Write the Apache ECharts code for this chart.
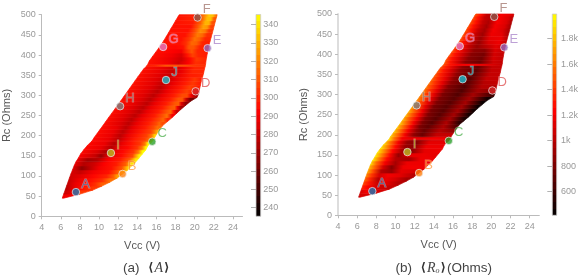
<!DOCTYPE html>
<html><head><meta charset="utf-8">
<style>html,body{margin:0;padding:0;background:#fff}#c{width:581px;height:280px}</style>
<script src="https://cdn.jsdelivr.net/npm/echarts@6/dist/echarts.min.js"></script>
</head><body><div id="c"></div>
<script>
const rcRows=[45,55,65,75,85,95,105,115,125,135,145,155,165,175,185,188,195,205,215,225,235,245,255,265,275,285,295,305,315,325,335,345,355,365,372,377,385,395,405,415,425,435,445,455,465,475,485,495,500];
// each row: Vcc, value, Vcc, value ... from the left edge of the region to its right edge
const ampRows=[
[6.15,285,6.3,290],
[6.3,280,7,285,7.6,296,8,304],
[6.45,275,7.2,285,8.2,296,9.35,304],
[6.6,278,7.5,288,8.8,296,9.6,302,10.3,312],
[6.75,280,7.8,288,9.2,296,10.3,302,11.15,316],
[6.9,282,8,286,9.5,294,10.8,300,11.5,312,11.9,326],
[7.05,284,8,280,9.4,290,11,296,11.9,310,12.45,332],
[7.22,286,8.2,268,9.2,280,10,290,11.3,296,12.4,310,13,336],
[7.38,288,8.4,276,9.5,282,10.5,292,11.8,298,12.8,312,13.4,340],
[7.58,290,8.8,272,9.8,276,11,292,12.2,298,13.2,312,13.85,342],
[7.85,292,9.6,280,10.2,270,10.9,285,12.3,294,13.5,308,14.2,344],
[8.08,294,9.8,284,10.9,272,11.6,288,12.5,294,13.6,304,14.1,318,14.55,345],
[8.4,294,10.2,288,11.3,276,12,288,13,294,14,304,14.5,318,14.9,345],
[8.75,294,10.6,288,11.6,276,12.4,288,13.3,296,14.3,304,14.8,318,15.1,344],
[9.17,294,10.9,288,11.9,278,12.7,288,13.6,298,14.6,306,15.2,318,15.55,340],
[9.3,294,11,288,12,278,12.8,288,13.7,298,14.8,306,15.3,318,15.65,340],
[9.47,295,11.2,288,12.2,278,13,288,14,298,15,306,15.5,318,15.8,336],
[9.78,295,11.5,288,12.5,278,13.3,288,14.4,298,15.4,306,15.8,318,16.05,328],
[10.09,295,11.8,288,12.8,278,13.6,288,14.8,298,15.7,308,16.1,316,16.35,314],
[10.4,295,12.1,286,13.1,278,13.9,288,15.1,298,16,308,16.3,314,16.65,308],
[10.7,295,12.4,286,13.4,278,14.2,288,15.4,298,16.3,308,16.7,314,17.15,300],
[11,295,12.7,286,13.75,278,14.6,288,15.8,298,16.7,310,17.1,316,17.65,290],
[11.31,295,13.1,286,14.2,278,15,288,16.2,298,17.1,310,17.5,314,17.8,296,18.1,280],
[11.62,295,13.5,286,14.6,278,15.4,288,16.6,298,17.5,310,17.9,312,18.2,290,18.55,272],
[11.93,296,13.9,286,15,278,15.8,288,17,298,17.9,310,18.3,312,18.6,286,19.05,268],
[12.23,296,14.3,286,15.35,278,16.2,288,17.4,298,18.3,310,18.7,310,19.1,282,19.55,262],
[12.53,296,14.6,286,15.7,278,16.6,288,17.8,298,18.7,308,19.2,308,19.6,290,20.25,270],
[12.83,296,15,286,16.1,278,17,288,18.2,298,19.2,306,19.9,298,20.42,288],
[13.13,296,15.4,286,16.45,278,17.3,288,18.6,298,19.5,306,20.5,298],
[13.43,296,15.7,286,16.8,278,17.7,288,19,298,19.8,304,20.6,298],
[13.73,296,16,286,17.1,279,18,288,19.3,298,20,304,20.7,298],
[14.03,296,16.3,286,17.4,280,18.3,288,19.5,298,20.82,300],
[14.34,296,16.6,287,17.7,280,18.6,288,19.8,300,20.93,300],
[14.64,296,16.9,287,18,281,18.9,290,20,300,21.02,300],
[14.95,298,15.8,300,17,310,19,308,20,304,21.1,302],
[15.1,296,17.2,290,18.3,282,19.3,292,20.1,302,21.14,300],
[15.25,296,17.5,288,18.6,282,19.5,294,20.2,304,21.18,300],
[15.55,296,17.6,290,18.6,284,19.2,296,19.8,306,20.4,300,21.25,298],
[15.86,296,17.8,292,18.6,290,19.2,302,19.7,310,20.3,300,21.33,298],
[16.17,296,18,294,18.8,296,19.4,310,19.9,310,20.5,300,21.42,298],
[16.47,296,18.4,296,19.1,302,19.7,314,20.2,312,20.8,300,21.5,298],
[16.75,296,18.6,296,19.4,304,20,316,20.5,312,21.1,300,21.62,300],
[17,296,19,296,19.7,306,20.3,318,20.8,314,21.3,302,21.73,302],
[17.26,296,19.3,296,20,308,20.6,322,21.1,318,21.5,304,21.85,304],
[17.5,296,19.6,296,20.3,310,20.9,326,21.3,324,21.7,306,21.96,306],
[17.76,296,19.8,298,20.6,312,21.1,330,21.5,330,21.8,310,22.07,308],
[18,296,20,300,20.8,314,21.3,332,21.7,332,22,312,22.18,310],
[18.25,296,20.2,300,20.9,316,21.5,334,21.9,332,22.3,312],
[18.38,298,20.3,300,21,318,21.6,334,22,332,22.35,312]
];
const roRows=[
[6.15,1000,6.3,1100],
[6.3,1100,7,1200,7.6,1150,8,1100],
[6.45,1350,7,1250,8,1100,9.35,1050],
[6.6,1450,7.2,1300,8.2,1050,9,1150,10.3,1000],
[6.75,1550,7.3,1350,8.2,1000,9,1180,10,1100,11.15,950],
[6.9,1650,7.5,1400,8.3,1100,9.2,1200,10.4,1150,11.9,1000],
[7.05,1750,7.7,1450,8.5,1000,9.6,900,10.6,1150,12.45,1100],
[7.22,1800,7.9,1500,8.7,1100,9.6,850,10.8,1180,11.8,1200,13,1180],
[7.38,1900,8,1550,8.9,1200,10,950,11.2,1180,12.2,1180,13.4,1180],
[7.58,1950,8.3,1600,9.1,1250,10,1000,11.4,950,12.6,1180,13.85,1180],
[7.85,1950,8.6,1600,9.4,1250,10.3,900,11.5,1150,13,1180,14.2,1150],
[8.08,1950,8.9,1600,9.7,1250,10.7,950,11.6,850,13,1150,14.55,1180],
[8.4,1950,9.2,1600,10,1250,11,900,11.9,880,13.2,1180,14.9,1180],
[8.75,1900,9.5,1550,10.3,1200,11.2,900,12.2,850,13.5,1150,15.1,1150],
[9.17,1900,9.8,1550,10.6,1200,11.5,900,12.5,860,13.8,1100,15.55,1100],
[9.3,1900,9.9,1550,10.7,1200,11.6,1150,13,1180,14,1200,15.65,1180],
[9.47,1850,10.2,1550,11,1200,11.9,880,12.8,760,14.3,1050,15.8,1050],
[9.78,1850,10.5,1550,11.3,1200,12.2,880,13,750,14.6,1000,16.05,880],
[10.09,1850,10.8,1550,11.6,1200,12.5,820,13.4,730,15,980,16.35,680],
[10.4,1850,11.1,1550,11.9,1200,12.8,820,13.8,700,15.3,980,16.65,560],
[10.7,1800,11.4,1500,12.2,1200,13.1,820,14.2,700,15.7,950,17.15,500],
[11,1800,11.7,1500,12.5,1200,13.4,820,14.6,700,16.1,950,17.65,480],
[11.31,1780,12,1500,12.8,1180,13.7,800,15,700,16.5,950,18.1,470],
[11.62,1750,12.3,1480,13.1,1150,14,800,15.3,700,16.9,950,18.55,460],
[11.93,1700,12.6,1450,13.4,1150,14.3,820,15.7,700,17.3,950,19.05,450],
[12.23,1680,12.9,1450,13.7,1150,14.6,820,16.1,700,17.7,950,19.55,470],
[12.53,1650,13.2,1420,14,1150,14.9,820,16.5,680,18.1,950,20.25,600],
[12.83,1620,13.5,1400,14.3,1150,15.2,840,16.9,680,18.6,950,20.42,850],
[13.13,1600,13.8,1400,14.6,1150,15.5,840,17.2,680,19,1000,20.5,1000],
[13.43,1580,14.1,1380,14.9,1150,15.8,870,17.5,700,19.2,1000,20.6,1050],
[13.73,1550,14.4,1350,15.2,1150,16.1,870,17.8,700,19.5,1050,20.7,1050],
[14.03,1520,14.7,1320,15.5,1120,16.4,870,18.1,720,19.8,1050,20.82,1050],
[14.34,1500,15,1300,15.8,1100,16.7,870,18.4,720,20,1050,20.93,1050],
[14.64,1480,15.3,1300,16.1,1100,17,870,18.6,740,20.1,1050,21.02,1050],
[14.95,1480,15.6,1300,16.5,1200,18,1220,20,1120,21.1,1050],
[15.1,1480,15.7,1290,16.5,1080,17.3,860,18.8,760,20.2,1080,21.14,1050],
[15.25,1480,15.9,1280,16.7,1080,17.6,860,19,780,20.2,1100,21.18,1050],
[15.55,1480,16.2,1280,17,1080,17.9,860,19.2,800,20.3,1100,21.25,1050],
[15.86,1480,16.5,1280,17.3,1080,18.2,880,19.3,860,20.4,1120,21.33,1050],
[16.17,1480,16.8,1280,17.6,1060,18.5,900,19.5,1020,20.5,1150,21.42,1050],
[16.47,1480,17.1,1280,17.9,1050,18.7,900,19.7,1120,20.8,1180,21.5,1050],
[16.75,1480,17.4,1280,18.2,1050,18.9,920,19.8,1150,21,1180,21.62,1020],
[17,1480,17.6,1280,18.4,1050,19.1,930,20,1180,21.1,1150,21.73,980],
[17.26,1480,17.9,1280,18.6,1050,19.3,950,20.2,1200,21.2,1120,21.85,960],
[17.5,1480,18.1,1280,18.9,1050,19.5,950,20.4,1200,21.4,1120,21.96,960],
[17.76,1480,18.4,1280,19.1,1050,19.7,970,20.6,1220,21.6,1120,22.07,980],
[18,1480,18.6,1280,19.3,1050,19.9,1000,20.8,1220,21.8,1120,22.18,1020],
[18.25,1480,18.9,1280,19.5,1050,20.1,1000,21,1220,22,1150,22.3,1080],
[18.38,1480,19,1280,19.6,1050,20.2,1000,21.1,1220,22.05,1150,22.35,1080]
];
const pointNames=['A','B','C','D','E','F','G','H','I','J'];
const pointVcc=[7.58,12.46,15.56,20.1,21.35,20.3,16.7,12.2,11.24,17.0];
const pointRc=[60,105,185,310,417,493,420,273,157,338];
const pointColors=['#1f77b4','#ff7f0e','#2ca02c','#d62728','#9467bd','#8c564b','#e377c2','#7f7f7f','#bcbd22','#17becf'];
const ampTicks=[240,250,260,270,280,290,300,310,320,330,340];
const roTicks=[600,800,1000,1200,1400,1600,1800];
const ampRange=[235.3,345.5];
const roRange=[415,1992];

const FONT='"Liberation Sans",Arial,sans-serif';
function hot(f){
  f=Math.max(0,Math.min(1,f));
  const r=f<0.52?Math.round(f/0.52*255):255;
  const g=f<0.52?0:Math.round((f-0.52)/0.48*255);
  return 'rgb('+r+','+g+',0)';
}
function stripSeries(rows,range,axisIndex){
  const col=v=>hot((v-range[0])/(range[1]-range[0]));
  return {
    type:'custom',xAxisIndex:axisIndex,yAxisIndex:axisIndex,clip:false,z:2,silent:true,
    encode:{x:0,y:1},
    data:rows.slice(0,-1).map((r,i)=>[r[0],rcRows[i],r[r.length-2]]),
    renderItem(params,api){
      const i=params.dataIndex,a=rows[i],b=rows[i+1];
      const p0=api.coord([a[0],rcRows[i]]),p1=api.coord([a[a.length-2],rcRows[i]]);
      const p2=api.coord([b[b.length-2],rcRows[i+1]]),p3=api.coord([b[0],rcRows[i+1]]);
      const x0=p0[0],x1=p1[0],stops=[];
      for(let k=0;k<a.length;k+=2){
        stops.push({offset:(api.coord([a[k],rcRows[i]])[0]-x0)/(x1-x0),color:col(a[k+1])});
      }
      const g=new echarts.graphic.LinearGradient(x0,0,x1,0,stops,true);
      return {type:'polygon',shape:{points:[p0,p1,p2,p3]},style:{fill:g,stroke:g,lineWidth:0.7}};
    }
  };
}
function pointSeries(axisIndex){
  return {
    type:'scatter',xAxisIndex:axisIndex,yAxisIndex:axisIndex,z:5,symbolSize:7.5,silent:true,
    data:pointNames.map((n,i)=>({
      name:n,value:[pointVcc[i],pointRc[i]],
      itemStyle:{color:pointColors[i],borderColor:'rgba(240,240,240,0.85)',borderWidth:1},
      label:{show:true,position:'right',distance:0,offset:[1,-8],formatter:n,fontFamily:FONT,fontSize:13,color:pointColors[i],opacity:0.62,textBorderColor:'rgba(255,255,255,0.55)',textBorderWidth:1}
    }))
  };
}
function colorbarSeries(range,axisIndex){
  const N=30,stops=[];
  for(let k=0;k<N;k++){const c=hot((k+0.5)/N);stops.push({offset:k/N,color:c},{offset:(k+1)/N,color:c});}
  return {
    type:'custom',xAxisIndex:axisIndex,yAxisIndex:axisIndex,z:1,silent:true,clip:false,
    encode:{x:0,y:1},data:[[0,range[0]]],
    renderItem(params,api){
      const a=api.coord([0,range[1]]),b=api.coord([1,range[0]]);
      return {type:'rect',shape:{x:a[0],y:a[1],width:b[0]-a[0],height:b[1]-a[1]},
        style:{fill:new echarts.graphic.LinearGradient(0,1,0,0,stops),stroke:'#ccc',lineWidth:0.8}};
    }
  };
}
const mainX=(name)=>({type:'value',min:4,max:25,interval:2,name,nameLocation:'middle',nameGap:24,
  nameTextStyle:{fontFamily:FONT,fontSize:11,color:'#555'},
  axisLine:{lineStyle:{color:'#bbb'}},axisTick:{length:3,lineStyle:{color:'#bbb'}},splitLine:{show:false},
  axisLabel:{fontFamily:FONT,fontSize:9,color:'#999',margin:7,showMaxLabel:false}});
const mainY=(w,c)=>({type:'value',min:0,max:500,interval:50,name:'Rc (Ohms)',nameLocation:'middle',nameGap:29,
  nameTextStyle:{fontFamily:FONT,fontSize:11,color:'#555'},
  axisLine:{lineStyle:{color:c,width:w}},axisTick:{length:3,lineStyle:{color:'#bbb'}},splitLine:{show:false},
  axisLabel:{fontFamily:FONT,fontSize:9,color:'#999',margin:6}});
const cbX=()=>({type:'value',show:false,min:0,max:1});
const cbY=(range,ticks,fmt,m)=>({type:'value',min:range[0],max:range[1],position:'right',z:6,
  axisLine:{show:false},splitLine:{show:false},
  axisTick:{inside:true,length:5,lineStyle:{color:'rgba(170,170,170,0.9)'},customValues:ticks},
  axisLabel:{fontFamily:FONT,fontSize:9,color:'#999',margin:m,formatter:fmt,customValues:ticks}});
const captionRich={
  b:{fontFamily:'"DejaVu Sans"',fontSize:12,color:'#333',fontWeight:'bold',padding:[0,1,0,1]},
  i:{fontFamily:'"Liberation Serif"',fontStyle:'italic',fontWeight:'normal',fontSize:14,color:'#444'},
  s:{fontFamily:'"Liberation Serif"',fontStyle:'italic',fontWeight:'normal',fontSize:8,color:'#444',verticalAlign:'bottom',padding:[5,0,0,0]},
  n:{fontFamily:FONT,fontWeight:'normal',fontSize:13.5,color:'#444'}
};
const chart=echarts.init(document.getElementById('c'),null,{renderer:'canvas'});
chart.setOption({
  animation:false,backgroundColor:'#fff',
  title:[
    {text:'{n|(a)  }{b|\u27E8}{i|A}{b|\u27E9}',left:141.7,top:256,textAlign:'center',textStyle:{fontWeight:'normal',rich:captionRich}},
    {text:'{n|(b)  }{b|\u27E8}{i|R}{s|o}{b|\u27E9}{n|(Ohms)}',left:438.7,top:256,textAlign:'center',textStyle:{fontWeight:'normal',rich:captionRich}}
  ],
  grid:[
    {left:41.7,top:14.7,width:200.8,height:201.6},
    {left:338,top:14,width:201.3,height:201.3},
    {left:256,top:14.5,width:4.7,height:201.8},
    {left:552.3,top:14,width:4.4,height:201.3}
  ],
  xAxis:[
    Object.assign(mainX('Vcc (V)'),{gridIndex:0}),
    Object.assign(mainX('Vcc (V)'),{gridIndex:1}),
    Object.assign(cbX(),{gridIndex:2}),
    Object.assign(cbX(),{gridIndex:3})
  ],
  yAxis:[
    Object.assign(mainY(1,'#bbb'),{gridIndex:0}),
    Object.assign(mainY(2,'#ddd'),{gridIndex:1}),
    Object.assign(cbY(ampRange,ampTicks,v=>String(v),2.6),{gridIndex:2}),
    Object.assign(cbY(roRange,roTicks,v=>v>=1000?(v/1000)+'k':String(v),4.3),{gridIndex:3})
  ],
  series:[
    stripSeries(ampRows,ampRange,0),pointSeries(0),
    stripSeries(roRows,roRange,1),pointSeries(1),
    colorbarSeries(ampRange,2),colorbarSeries(roRange,3)
  ]
});
</script></body></html>
